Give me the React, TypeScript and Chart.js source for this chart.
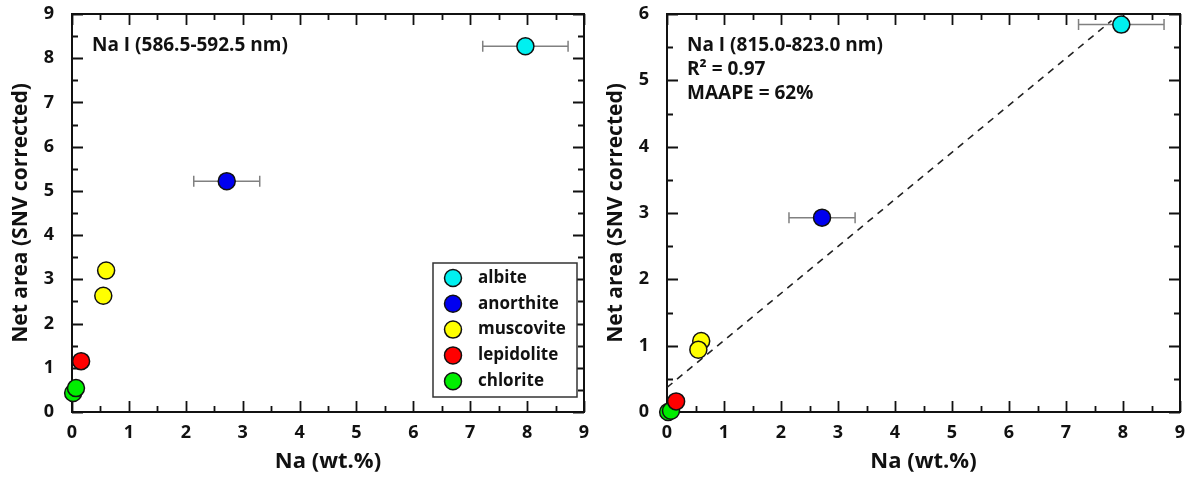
import React, { useEffect, useRef } from 'react';
import { Chart, registerables } from 'chart.js';

Chart.register(...registerables);

const FONT = '"Open Sans", "DejaVu Sans", sans-serif';

// Mineral standards and colours
const minerals = ['albite', 'anorthite', 'muscovite', 'lepidolite', 'chlorite'];
const mineralColors = ['#00F0F0', '#0000F0', '#FFFF00', '#FF0000', '#00EE00'];

// Na content (wt.%) per mineral sample and its x uncertainty
const albiteNa = [7.97];
const anorthiteNa = [2.72];
const muscoviteNa = [0.6, 0.55];
const lepidoliteNa = [0.16];
const chloriteNa = [0.02, 0.07];

const albiteNaErr = [0.75];
const anorthiteNaErr = [0.58];

// Net area, Na I 586.5-592.5 nm
const albiteArea589 = [8.27];
const anorthiteArea589 = [5.22];
const muscoviteArea589 = [3.2, 2.63];
const lepidoliteArea589 = [1.15];
const chloriteArea589 = [0.43, 0.54];

// Net area, Na I 815.0-823.0 nm
const albiteArea819 = [5.84];
const anorthiteArea819 = [2.93];
const muscoviteArea819 = [1.07, 0.94];
const lepidoliteArea819 = [0.16];
const chloriteArea819 = [0.0, 0.02];

// Regression line, right panel
const fitNa = [0, 7.8];
const fitArea = [0.37, 5.9];

const xTicksMax = 9;
const leftYMax = 9;
const rightYMax = 6;

const leftNotes = ['Na I (586.5-592.5 nm)'];
const rightNotes = ['Na I (815.0-823.0 nm)', 'R\u00B2 = 0.97', 'MAAPE = 62%'];

const naLists = [albiteNa, anorthiteNa, muscoviteNa, lepidoliteNa, chloriteNa];
const errLists = [albiteNaErr, anorthiteNaErr, [], [], []];

function buildDatasets(areas: number[][]) {
  return minerals.map((name, i) => ({
    label: name,
    data: naLists[i].map((x, j) => ({ x, y: areas[i][j], xErr: errLists[i][j] })),
    backgroundColor: mineralColors[i],
    borderColor: '#111',
    borderWidth: 1.5,
    pointRadius: 8.5,
    pointHoverRadius: 8.5,
    showLine: false,
    clip: false,
  }));
}

function makePlugin(showLegend: boolean, notes: string[], yMax: number) {
  return {
    id: 'decor',
    beforeDatasetsDraw(chart: any) {
      const ctx = chart.ctx;
      const { left, right, top, bottom } = chart.chartArea;
      const xs = chart.scales.x;
      const ys = chart.scales.y;
      ctx.save();
      ctx.strokeStyle = '#111';
      ctx.lineWidth = 2;
      ctx.strokeRect(left, top, right - left, bottom - top);
      ctx.lineWidth = 1.8;
      for (let v = 0; v <= xTicksMax * 2; v++) {
        const val = v / 2;
        const len = v % 2 === 0 ? 11 : 6;
        const px = Math.round(xs.getPixelForValue(val)) + 0.5;
        ctx.beginPath();
        ctx.moveTo(px, bottom);
        ctx.lineTo(px, bottom - len);
        ctx.moveTo(px, top);
        ctx.lineTo(px, top + len);
        ctx.stroke();
      }
      for (let v = 0; v <= yMax * 2; v++) {
        const val = v / 2;
        const len = v % 2 === 0 ? 11 : 6;
        const py = Math.round(ys.getPixelForValue(val)) + 0.5;
        ctx.beginPath();
        ctx.moveTo(left, py);
        ctx.lineTo(left + len, py);
        ctx.moveTo(right, py);
        ctx.lineTo(right - len, py);
        ctx.stroke();
      }
      // error bars
      ctx.strokeStyle = '#808080';
      ctx.lineWidth = 1.5;
      chart.data.datasets.forEach((ds: any) => {
        ds.data.forEach((p: any) => {
          if (!p.xErr) return;
          const x0 = xs.getPixelForValue(p.x - p.xErr);
          const x1 = xs.getPixelForValue(p.x + p.xErr);
          const py = ys.getPixelForValue(p.y);
          ctx.beginPath();
          ctx.moveTo(x0, py);
          ctx.lineTo(x1, py);
          ctx.moveTo(x0, py - 5.5);
          ctx.lineTo(x0, py + 5.5);
          ctx.moveTo(x1, py - 5.5);
          ctx.lineTo(x1, py + 5.5);
          ctx.stroke();
        });
      });
      ctx.restore();
    },
    afterDraw(chart: any) {
      const ctx = chart.ctx;
      const { left, right, top, bottom } = chart.chartArea;
      ctx.save();
      ctx.fillStyle = '#111';
      ctx.font = `bold 19px ${FONT}`;
      ctx.textBaseline = 'middle';
      ctx.textAlign = 'left';
      notes.forEach((t, i) => {
        ctx.fillText(t, left + 20, top + 32 + i * 24);
      });
      if (showLegend) {
        const bx1 = right - 7;
        const by1 = bottom - 15;
        const bx0 = bx1 - 144;
        const by0 = by1 - 134;
        ctx.fillStyle = '#fff';
        ctx.fillRect(bx0, by0, bx1 - bx0, by1 - by0);
        ctx.strokeStyle = '#333';
        ctx.lineWidth = 1.5;
        ctx.strokeRect(bx0, by0, bx1 - bx0, by1 - by0);
        chart.data.datasets.slice(0, minerals.length).forEach((ds: any, i: number) => {
          const cy = by0 + 15 + i * 25.8;
          ctx.beginPath();
          ctx.arc(bx0 + 20, cy, 8.5, 0, Math.PI * 2);
          ctx.fillStyle = ds.backgroundColor;
          ctx.fill();
          ctx.strokeStyle = '#111';
          ctx.lineWidth = 1.5;
          ctx.stroke();
          ctx.fillStyle = '#111';
          ctx.font = `bold 17px ${FONT}`;
          ctx.fillText(ds.label, bx0 + 45, cy);
        });
      }
      ctx.restore();
    },
  };
}

function makeConfig(areas: number[][], yMax: number, rightPad: number, showLegend: boolean, notes: string[], withFit: boolean) {
  const datasets: any[] = buildDatasets(areas);
  if (withFit) {
    datasets.push({
      label: 'fit',
      data: fitNa.map((x, i) => ({ x, y: fitArea[i] })),
      borderColor: '#222',
      borderWidth: 1.6,
      borderDash: [7, 6],
      pointRadius: 0,
      showLine: true,
      fill: false,
    });
  }
  return {
    type: 'scatter' as const,
    data: { datasets },
    options: {
      animation: false,
      responsive: false,
      maintainAspectRatio: false,
      layout: { padding: { left: 0, top: 14, right: rightPad, bottom: 0 } },
      plugins: { legend: { display: false }, tooltip: { enabled: false } },
      scales: {
        x: {
          type: 'linear',
          min: 0,
          max: xTicksMax,
          afterFit: (s: any) => { s.height = 67; s.paddingLeft = 0; s.paddingRight = 0; },
          grid: { display: false, drawTicks: false },
          border: { display: false },
          ticks: { stepSize: 1, color: '#111', padding: 10, font: { family: FONT, size: 18, weight: 'bold' } },
          title: { display: true, text: 'Na (wt.%)', color: '#111', padding: { top: 0, bottom: 4 }, font: { family: FONT, size: 22, weight: 'bold' } },
        },
        y: {
          type: 'linear',
          min: 0,
          max: yMax,
          afterFit: (s: any) => { s.width = 72; s.paddingTop = 0; s.paddingBottom = 0; },
          grid: { display: false, drawTicks: false },
          border: { display: false },
          ticks: { stepSize: 1, color: '#111', padding: 18, font: { family: FONT, size: 18, weight: 'bold' } },
          title: { display: true, text: 'Net area (SNV corrected)', color: '#111', padding: { top: 8.5, bottom: 0 }, font: { family: FONT, size: 21, weight: 'bold' } },
        },
      },
    },
    plugins: [makePlugin(showLegend, notes, yMax)],
  };
}

export default function App() {
  const leftRef = useRef<HTMLCanvasElement>(null);
  const rightRef = useRef<HTMLCanvasElement>(null);

  useEffect(() => {
    const left = new Chart(leftRef.current as HTMLCanvasElement, makeConfig(
      [albiteArea589, anorthiteArea589, muscoviteArea589, lepidoliteArea589, chloriteArea589],
      leftYMax, 11, true, leftNotes, false) as any);
    const right = new Chart(rightRef.current as HTMLCanvasElement, makeConfig(
      [albiteArea819, anorthiteArea819, muscoviteArea819, lepidoliteArea819, chloriteArea819],
      rightYMax, 8, false, rightNotes, true) as any);
    return () => {
      left.destroy();
      right.destroy();
    };
  }, []);

  return (
    <div style={{ position: 'fixed', left: 0, top: 0, width: 1190, height: 479, background: '#fff' }}>
      <canvas ref={leftRef} width={595} height={479} style={{ position: 'absolute', left: 0, top: 0, width: 595, height: 479 }} />
      <canvas ref={rightRef} width={595} height={479} style={{ position: 'absolute', left: 595, top: 0, width: 595, height: 479 }} />
    </div>
  );
}
